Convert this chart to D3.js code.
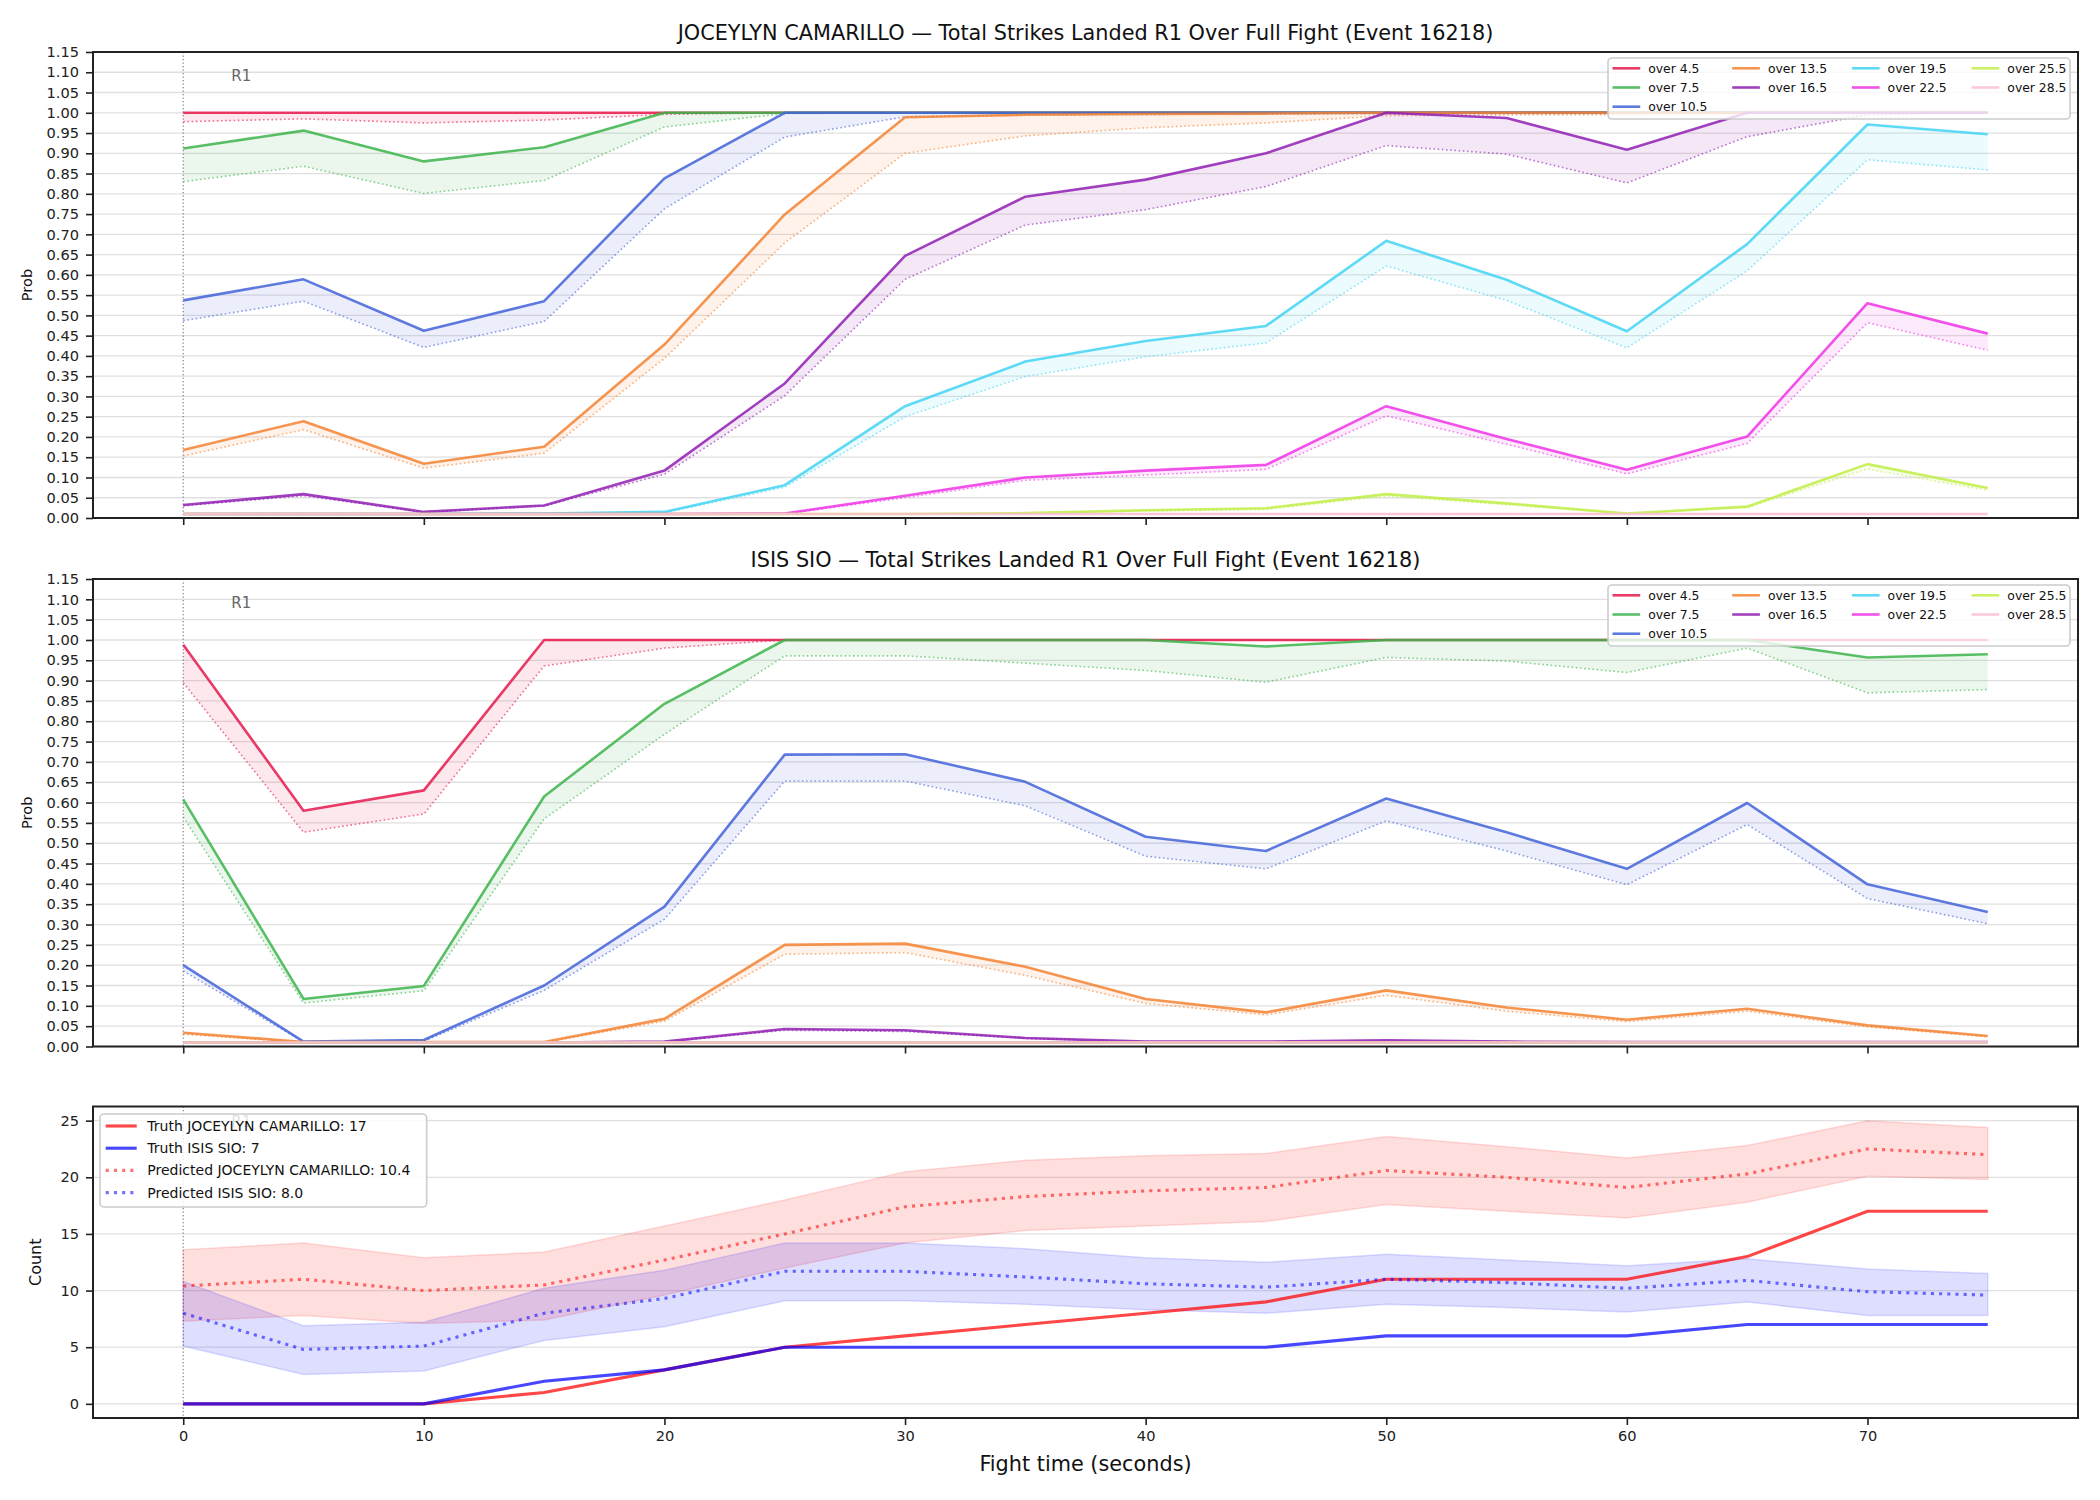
<!DOCTYPE html>
<html>
<head>
<meta charset="utf-8">
<script src="https://cdn.jsdelivr.net/npm/d3@7"></script>
<style>
body{margin:0;background:#fff;}
text{font-family:"DejaVu Sans",sans-serif;}
</style>
</head>
<body>
<script>
var W=2100;
var H=1500;

// fight time (seconds) of each snapshot
var times=[0,5,10,15,20,25,30,35,40,45,50,55,60,65,70,75];

var lineNames=["over 4.5","over 7.5","over 10.5","over 13.5","over 16.5","over 19.5","over 22.5","over 25.5","over 28.5"];
var lineColors=["#e6194B","#3cb44b","#4363d8","#f58231","#911eb4","#42d4f4","#f032e6","#bfef45","#fabed4"];

// JOCEYLYN CAMARILLO, solid (live) and dotted (pre-fight) probabilities per line
var camSolid=[
	[1,1,1,1,1,1,1,1,1,1,1,1,1,1,1,1],
	[0.912,0.956,0.880,0.915,1,1,1,1,1,1,1,1,1,1,1,1],
	[0.537,0.589,0.462,0.535,0.838,1,1,1,1,1,1,1,1,1,1,1],
	[0.168,0.239,0.134,0.176,0.428,0.749,0.989,0.995,0.997,0.998,1,1,1,1,1,1],
	[0.032,0.059,0.015,0.031,0.117,0.332,0.647,0.793,0.835,0.900,1.0,0.987,0.909,1.0,1.0,1.0],
	[0.01,0.01,0.01,0.011,0.015,0.081,0.276,0.386,0.437,0.474,0.684,0.588,0.461,0.676,0.971,0.947],
	[0.01,0.01,0.01,0.01,0.01,0.011,0.055,0.100,0.117,0.131,0.276,0.195,0.119,0.201,0.530,0.455],
	[0.01,0.01,0.01,0.01,0.01,0.01,0.01,0.012,0.019,0.024,0.059,0.036,0.011,0.028,0.133,0.074],
	[0.01,0.01,0.01,0.01,0.01,0.01,0.01,0.01,0.01,0.01,0.01,0.01,0.01,0.01,0.01,0.01]
];
var camDotted=[
	[0.978,0.985,0.975,0.982,0.996,1,1,1,1,1,1,1,1,1,1,1],
	[0.830,0.868,0.801,0.833,0.965,0.998,1,1,1,1,1,1,1,1,1,1],
	[0.487,0.535,0.421,0.485,0.763,0.940,0.990,0.995,0.996,0.997,0.998,0.998,0.998,0.999,1,1],
	[0.153,0.218,0.123,0.160,0.394,0.679,0.900,0.943,0.963,0.975,0.993,0.995,0.995,0.998,1,1],
	[0.030,0.055,0.014,0.030,0.108,0.302,0.589,0.723,0.761,0.818,0.919,0.898,0.827,0.941,0.995,1.0],
	[0.01,0.01,0.01,0.01,0.013,0.076,0.250,0.349,0.398,0.432,0.622,0.537,0.420,0.610,0.884,0.859],
	[0.01,0.01,0.01,0.01,0.01,0.01,0.050,0.093,0.106,0.120,0.252,0.182,0.109,0.184,0.482,0.414],
	[0.01,0.01,0.01,0.01,0.01,0.01,0.01,0.011,0.017,0.021,0.054,0.033,0.010,0.026,0.121,0.068],
	[0.01,0.01,0.01,0.01,0.01,0.01,0.01,0.01,0.01,0.01,0.01,0.01,0.01,0.01,0.01,0.01]
];

// ISIS SIO
var sioSolid=[
	[0.988,0.580,0.630,1,1,1,1,1,1,1,1,1,1,1,1,1],
	[0.608,0.117,0.149,0.615,0.843,1,1,1,1,0.984,1,1,1,1,0.957,0.965],
	[0.200,0.012,0.016,0.150,0.344,0.718,0.719,0.651,0.516,0.481,0.610,0.527,0.437,0.599,0.399,0.331],
	[0.034,0.011,0.011,0.011,0.068,0.250,0.253,0.196,0.117,0.084,0.138,0.096,0.066,0.093,0.052,0.026],
	[0.01,0.01,0.01,0.01,0.012,0.043,0.040,0.021,0.012,0.012,0.015,0.012,0.011,0.011,0.011,0.011],
	[0.01,0.01,0.01,0.01,0.01,0.01,0.01,0.01,0.01,0.01,0.01,0.01,0.01,0.01,0.01,0.01],
	[0.01,0.01,0.01,0.01,0.01,0.01,0.01,0.01,0.01,0.01,0.01,0.01,0.01,0.01,0.01,0.01],
	[0.01,0.01,0.01,0.01,0.01,0.01,0.01,0.01,0.01,0.01,0.01,0.01,0.01,0.01,0.01,0.01],
	[0.01,0.01,0.01,0.01,0.01,0.01,0.01,0.01,0.01,0.01,0.01,0.01,0.01,0.01,0.01,0.01]
];
var sioDotted=[
	[0.895,0.527,0.572,0.936,0.980,1,1,1,1,1,1,1,1,1,1,1],
	[0.565,0.107,0.137,0.560,0.768,0.961,0.961,0.943,0.925,0.896,0.957,0.948,0.920,0.980,0.870,0.878],
	[0.186,0.011,0.013,0.138,0.313,0.653,0.653,0.592,0.468,0.437,0.555,0.481,0.398,0.546,0.364,0.302],
	[0.030,0.010,0.010,0.010,0.062,0.227,0.231,0.175,0.106,0.078,0.126,0.087,0.061,0.087,0.048,0.024],
	[0.01,0.01,0.01,0.01,0.011,0.040,0.037,0.020,0.011,0.011,0.013,0.011,0.010,0.010,0.010,0.010],
	[0.01,0.01,0.01,0.01,0.01,0.01,0.01,0.01,0.01,0.01,0.01,0.01,0.01,0.01,0.01,0.01],
	[0.01,0.01,0.01,0.01,0.01,0.01,0.01,0.01,0.01,0.01,0.01,0.01,0.01,0.01,0.01,0.01],
	[0.01,0.01,0.01,0.01,0.01,0.01,0.01,0.01,0.01,0.01,0.01,0.01,0.01,0.01,0.01,0.01],
	[0.01,0.01,0.01,0.01,0.01,0.01,0.01,0.01,0.01,0.01,0.01,0.01,0.01,0.01,0.01,0.01]
];

// bottom panel counts
var truthCam=[0,0,0,1,3,5,6,7,8,9,11,11,11,13,17,17];
var truthSio=[0,0,0,2,3,5,5,5,5,5,6,6,6,7,7,7];
var predCam=[10.4,11.0,10.0,10.5,12.7,15.0,17.4,18.3,18.8,19.1,20.6,20.0,19.1,20.3,22.5,22.0];
var camHi=[13.6,14.2,12.9,13.4,15.7,18.0,20.5,21.5,21.9,22.1,23.6,22.7,21.7,22.8,25.0,24.4];
var camLo=[7.3,7.8,7.1,7.4,9.6,12.0,14.2,15.3,15.7,16.1,17.6,17.0,16.4,17.8,20.1,19.8];
var predSio=[8.0,4.8,5.1,8.0,9.3,11.7,11.7,11.2,10.6,10.3,11.0,10.7,10.2,10.9,9.9,9.6];
var sioHi=[10.8,6.9,7.2,10.2,11.8,14.2,14.2,13.7,12.9,12.5,13.2,12.7,12.2,12.8,11.9,11.5];
var sioLo=[5.1,2.6,2.9,5.6,6.8,9.1,9.1,8.8,8.3,8.0,8.8,8.5,8.1,9.0,7.8,7.8];

var probTicks=[0,0.05,0.1,0.15,0.2,0.25,0.3,0.35,0.4,0.45,0.5,0.55,0.6,0.65,0.7,0.75,0.8,0.85,0.9,0.95,1.0,1.05,1.1,1.15];
var countTicks=[0,5,10,15,20,25];
var timeTicks=[0,10,20,30,40,50,60,70];
var countLegend=["Truth JOCEYLYN CAMARILLO: 17","Truth ISIS SIO: 7","Predicted JOCEYLYN CAMARILLO: 10.4","Predicted ISIS SIO: 8.0"];

var svg=d3.select("body").append("svg")
	.attr("width",W)
	.attr("height",H);
svg.append("rect").attr("width",W).attr("height",H).attr("fill","#fff");

var left=93, right=2078;
var x=d3.scaleLinear().domain([-3.75,78.75]).range([left,right]);

function frame(top,bottom,y,ticks,fmt,showX){
	var g=svg.append("g");
	// grid
	g.selectAll(".grid").data(ticks).enter().append("line")
		.attr("x1",left).attr("x2",right)
		.attr("y1",function(d){return y(d);}).attr("y2",function(d){return y(d);})
		.attr("stroke","#e0e0e0").attr("stroke-width",1.3);
	var ya=d3.axisLeft(y).tickValues(ticks).tickFormat(fmt).tickSize(7).tickPadding(7).tickSizeOuter(0);
	var ay=svg.append("g").attr("transform","translate("+left+",0)").call(ya);
	var xa=d3.axisBottom(x).tickValues(timeTicks).tickSize(7).tickPadding(6).tickSizeOuter(0);
	if(!showX) xa.tickFormat("");
	var ax=svg.append("g").attr("transform","translate(0,"+bottom+")").call(xa);
	[ay,ax].forEach(function(a){
		a.select(".domain").remove();
		a.selectAll(".tick line").attr("stroke","#222").attr("stroke-width",1.6);
		a.selectAll(".tick text").attr("fill","#222").style("font-size","14.6px").style("font-family","DejaVu Sans");
	});
	// R1 marker
	g.append("line").attr("x1",x(0)).attr("x2",x(0)).attr("y1",top).attr("y2",bottom)
		.attr("stroke","#555").attr("stroke-opacity",0.75).attr("stroke-width",1.2).attr("stroke-dasharray","1.3,2.2");
	g.append("text").attr("x",x(2)).attr("y",bottom-(bottom-top)*0.95).attr("dy","0.36em")
		.attr("fill","#666").style("font-size","15px").text("R1");
	return g;
}

function spines(top,bottom){
	svg.append("rect").attr("x",left).attr("y",top).attr("width",right-left).attr("height",bottom-top)
		.attr("fill","none").attr("stroke","#222").attr("stroke-width",2);
}

function probPanel(top,bottom,title,solid,dotted){
	var y=d3.scaleLinear().domain([0,1.15]).range([bottom,top]);
	frame(top,bottom,y,probTicks,d3.format(".2f"),false);
	var g=svg.append("g");
	var lineS=d3.line().x(function(d,i){return x(times[i]);}).y(function(d){return y(d);});
	lineNames.forEach(function(name,k){
		var band=d3.area().x(function(d,i){return x(times[i]);})
			.y0(function(d,i){return y(solid[k][i]);})
			.y1(function(d,i){return y(dotted[k][i]);});
		g.append("path").datum(solid[k]).attr("d",band)
			.attr("fill",lineColors[k]).attr("fill-opacity",0.1);
		g.append("path").datum(solid[k]).attr("d",lineS)
			.attr("fill","none").attr("stroke",lineColors[k]).attr("stroke-opacity",0.85)
			.attr("stroke-width",2.6).attr("stroke-linejoin","round");
		g.append("path").datum(dotted[k]).attr("d",lineS)
			.attr("fill","none").attr("stroke",lineColors[k]).attr("stroke-opacity",0.6)
			.attr("stroke-width",1.6).attr("stroke-dasharray","1.6,2.6");
	});
	spines(top,bottom);
	svg.append("text").attr("x",(left+right)/2).attr("y",top-12.5).attr("text-anchor","middle")
		.attr("fill","#111").style("font-size","20.8px").text(title);
	svg.append("text").attr("transform","translate(32,"+((top+bottom)/2)+") rotate(-90)")
		.attr("text-anchor","middle").attr("fill","#111").style("font-size","14.6px").text("Prob");

	// legend, 4 columns filled column-wise
	var lg=svg.append("g");
	lg.append("rect").attr("x",1608).attr("y",top+6).attr("width",462).attr("height",61).attr("rx",4)
		.attr("fill","#fff").attr("fill-opacity",0.8).attr("stroke","#cccccc").attr("stroke-width",1.6);
	var rows=3;
	var colStart=[0,3,5,7];
	lineNames.forEach(function(name,k){
		var c=k<3?0:k<5?1:k<7?2:3;
		var r=k-colStart[c];
		var hx=1612.5+c*119.7;
		var hy=top+16.3+r*19.2;
		lg.append("line").attr("x1",hx).attr("x2",hx+27.7).attr("y1",hy).attr("y2",hy)
			.attr("stroke",lineColors[k]).attr("stroke-opacity",0.85).attr("stroke-width",2.6);
		lg.append("text").attr("x",hx+35.7).attr("y",hy).attr("dy","0.36em")
			.attr("fill","#111").style("font-size","12.4px").text(name);
	});
}

probPanel(52,518,"JOCEYLYN CAMARILLO \u2014 Total Strikes Landed R1 Over Full Fight (Event 16218)",camSolid,camDotted);
probPanel(579,1046.5,"ISIS SIO \u2014 Total Strikes Landed R1 Over Full Fight (Event 16218)",sioSolid,sioDotted);

// count panel
var top3=1106.5, bottom3=1418;
var y3=d3.scaleLinear().domain([-1.25,26.25]).range([bottom3,top3]);
frame(top3,bottom3,y3,countTicks,d3.format("d"),true);
var g3=svg.append("g");
var bandArea=function(lo,hi){
	return d3.area().x(function(d,i){return x(times[i]);})
		.y0(function(d,i){return y3(lo[i]);}).y1(function(d,i){return y3(hi[i]);});
};
var line3=d3.line().x(function(d,i){return x(times[i]);}).y(function(d){return y3(d);});
g3.append("path").datum(camLo).attr("d",bandArea(camLo,camHi))
	.attr("fill","red").attr("fill-opacity",0.13).attr("stroke","red").attr("stroke-opacity",0.13).attr("stroke-width",1.5);
g3.append("path").datum(sioLo).attr("d",bandArea(sioLo,sioHi))
	.attr("fill","blue").attr("fill-opacity",0.13).attr("stroke","blue").attr("stroke-opacity",0.13).attr("stroke-width",1.5);
g3.append("path").datum(truthCam).attr("d",line3).attr("fill","none")
	.attr("stroke","red").attr("stroke-opacity",0.72).attr("stroke-width",3.1);
g3.append("path").datum(truthSio).attr("d",line3).attr("fill","none")
	.attr("stroke","blue").attr("stroke-opacity",0.72).attr("stroke-width",3.1);
g3.append("path").datum(predCam).attr("d",line3).attr("fill","none")
	.attr("stroke","red").attr("stroke-opacity",0.55).attr("stroke-width",3.1).attr("stroke-dasharray","3.1,5.1");
g3.append("path").datum(predSio).attr("d",line3).attr("fill","none")
	.attr("stroke","blue").attr("stroke-opacity",0.55).attr("stroke-width",3.1).attr("stroke-dasharray","3.1,5.1");
spines(top3,bottom3);
svg.append("text").attr("transform","translate(41,"+((top3+bottom3)/2)+") rotate(-90)")
	.attr("text-anchor","middle").attr("fill","#111").style("font-size","16px").text("Count");
svg.append("text").attr("x",(left+right)/2).attr("y",1471).attr("text-anchor","middle")
	.attr("fill","#111").style("font-size","20.8px").text("Fight time (seconds)");

// count legend
var lg3=svg.append("g");
lg3.append("rect").attr("x",100).attr("y",1114).attr("width",326.7).attr("height",93).attr("rx",4)
	.attr("fill","#fff").attr("fill-opacity",0.8).attr("stroke","#cccccc").attr("stroke-width",1.6);
var legColors=["red","blue","red","blue"];
countLegend.forEach(function(name,k){
	var hy=1126+k*22.2;
	lg3.append("line").attr("x1",105.7).attr("x2",136.7).attr("y1",hy).attr("y2",hy)
		.attr("stroke",legColors[k]).attr("stroke-opacity",k<2?0.72:0.55).attr("stroke-width",3.1)
		.attr("stroke-dasharray",k<2?null:"3.1,5.1");
	lg3.append("text").attr("x",147.3).attr("y",hy).attr("dy","0.36em")
		.attr("fill","#111").style("font-size","14px").text(name);
});
</script>
</body>
</html>
